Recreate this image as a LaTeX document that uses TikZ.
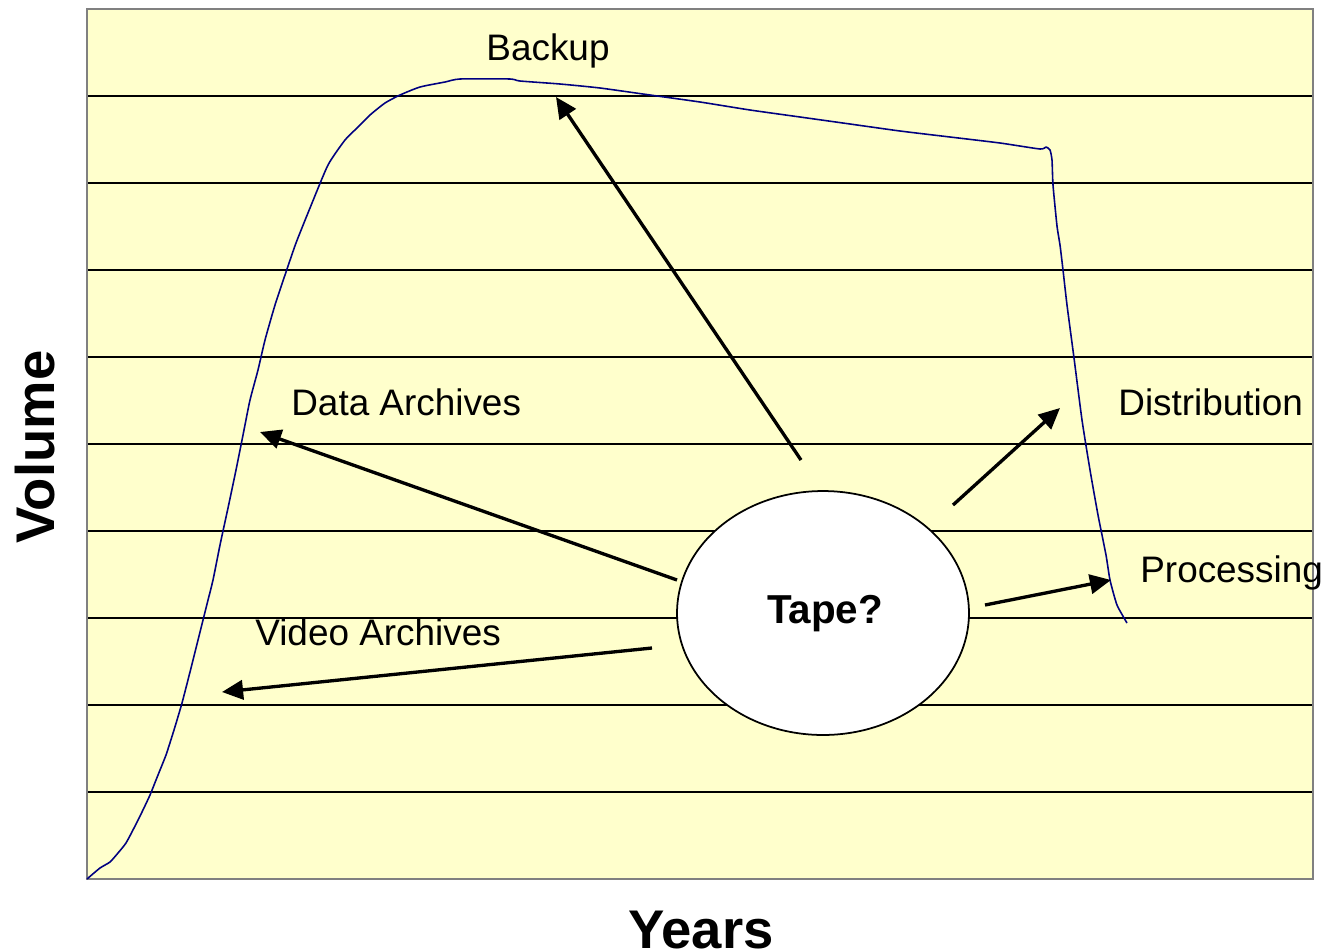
\documentclass[tikz,border=0pt]{standalone}
\usepackage{fontspec}
\setmainfont{Liberation Sans}
\usetikzlibrary{arrows.meta,shapes.geometric}
\definecolor{plotbg}{HTML}{FFFFCC}
\definecolor{curvecol}{HTML}{000080}
\definecolor{framecol}{HTML}{808080}
\tikzset{
  grid line/.style={black, line width=0.6pt},
  thick arrow/.style={black, line width=1.9pt, -{Triangle[length=12pt,width=11pt]}},
  lbl/.style={font=\fontsize{21}{24}\selectfont, inner sep=0pt},
  axislbl/.style={font=\fontsize{31}{34}\selectfont\bfseries, inner sep=0pt},
}
\begin{document}
\begin{tikzpicture}[x=0.02cm,y=-0.02cm]
\useasboundingbox (0,0) rectangle (1332,951);
% plot area
\fill[plotbg] (87,9) rectangle (1313,879);
\foreach \k in {1,...,9} {
  \draw[grid line] (87,{9+87*\k}) -- (1313,{9+87*\k});
}
\draw[framecol, line width=1.1pt] (87,9) rectangle (1313,879);
% curve
\draw[curvecol, line width=0.9pt, line join=round] plot[smooth, tension=0.35] coordinates {
 (87,879) (100,868) (110,862) (118,853) (126,843) (134,828) (142,812) (150,795)
 (158,775) (166,755) (174,730) (182,703) (190,672) (198,640) (206,608) (213,580)
 (220,545) (228,508) (236,470) (244,430) (250,400) (258,370) (265,340) (275,305)
 (285,275) (296,243) (310,208) (328,165) (345,140) (357,128) (370,115) (385,103)
 (400,95) (420,87) (445,82) (460,79) (510,79) (520,81) (560,84) (600,88)
 (650,95) (700,102) (750,110) (800,117) (850,124) (900,131) (950,137) (1000,143)
 (1040,149) (1046,147) (1050,150) (1052,160) (1053,185) (1057,226) (1060,245)
 (1063,270) (1067,305) (1074,358) (1082,420) (1090,470) (1098,515) (1106,555)
 (1110,580) (1117,605) (1127,623)};
% ellipse
\node[ellipse, draw=black, fill=white, line width=1pt, inner sep=0pt,
      minimum width=5.84cm, minimum height=4.88cm] (tape) at (823,613) {};
\node[font=\fontsize{23}{26}\selectfont\bfseries, inner sep=0pt] (tapetxt) at (825,614) {Tape?};
% labels
\node[lbl] (backup) at (548,51) {Backup};
\node[lbl, anchor=west] (data) at (291,402) {Data Archives};
\node[lbl, anchor=west] (dist) at (1118,402) {Distribution};
\node[lbl, anchor=west] (proc) at (1140,573) {Processing};
\node[lbl, anchor=west] (video) at (255,632) {Video Archives};
\node[axislbl, rotate=90] (vol) at (35,447) {Volume};
\node[axislbl] (years) at (701,930) {Years};
% arrow endpoints
\coordinate (bs) at (801,460); \coordinate (be) at (556,97);
\coordinate (ds) at (677,580); \coordinate (de) at (260,432);
\coordinate (vs) at (652,648); \coordinate (ve) at (222,692);
\coordinate (ss) at (953,505); \coordinate (se) at (1060,408);
\coordinate (ps) at (985,605); \coordinate (pe) at (1111,580);
\draw[thick arrow] (bs) -- (be);
\draw[thick arrow] (ds) -- (de);
\draw[thick arrow] (vs) -- (ve);
\draw[thick arrow] (ss) -- (se);
\draw[thick arrow] (ps) -- (pe);
\end{tikzpicture}
\end{document}
